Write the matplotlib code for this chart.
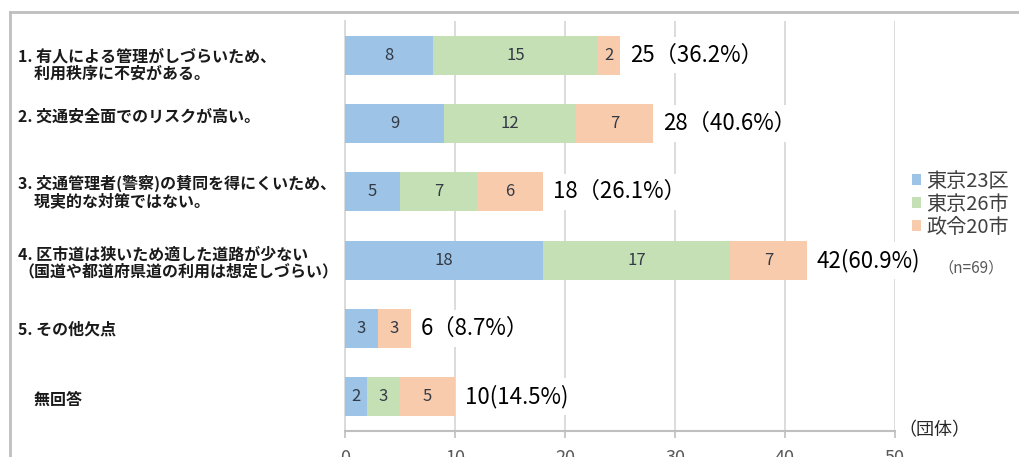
import matplotlib
matplotlib.use("Agg")
import matplotlib.pyplot as plt
from matplotlib.patches import Patch
from matplotlib.lines import Line2D
from matplotlib.transforms import blended_transform_factory, offset_copy
import numpy as np

plt.rcParams['font.family'] = ['Noto Sans CJK JP', 'DejaVu Sans']

categories = [
    "1. 有人による管理がしづらいため、\n　利用秩序に不安がある。",
    "2. 交通安全面でのリスクが高い。",
    "3. 交通管理者(警察)の賛同を得にくいため、\n　現実的な対策ではない。",
    "4. 区市道は狭いため適した道路が少ない\n（国道や都道府県道の利用は想定しづらい）",
    "5. その他欠点",
    "　無回答",
]
series_names = ["東京23区", "東京26市", "政令20市"]
tokyo23 = [8, 9, 5, 18, 3, 2]
tokyo26 = [15, 12, 7, 17, 0, 3]
seirei20 = [2, 7, 6, 7, 3, 5]
total_labels = ["25（36.2%）", "28（40.6%）", "18（26.1%）", "42(60.9%)", "6（8.7%）", "10(14.5%)"]
x_ticks = [0, 10, 20, 30, 40, 50]
n_note = "（n=69）"
unit_label = "（団体）"

colors = ["#9DC3E6", "#C5E0B4", "#F8CBAD"]
# vertical nudges (pixels, downward) of the category text boxes
label_nudge_px = [10, -7, 0, 3, 1, 3]

W, H = 1020, 457
fig = plt.figure(figsize=(W / 100, H / 100), dpi=100)
ax = fig.add_axes([345 / W, 1 - 431 / H, 550 / W, 410 / H])

y = np.arange(len(categories))
series = [tokyo23, tokyo26, seirei20]
left = np.zeros(len(categories))
for vals, col, name in zip(series, colors, series_names):
    vals = np.array(vals, dtype=float)
    ax.barh(y, vals, left=left, height=0.57, color=col, label=name, zorder=3)
    for yi, (l, v) in enumerate(zip(left, vals)):
        if v > 0:
            ax.text(l + v / 2, yi, f"{int(v)}", ha='center', va='center',
                    fontsize=12, color='#333a45', zorder=4)
    left = left + vals

for yi, (tot, lab) in enumerate(zip(left, total_labels)):
    ax.annotate(lab, (tot, yi), xytext=(7, 0), textcoords='offset points',
                ha='left', va='center', fontsize=16, color='black', zorder=5,
                bbox=dict(boxstyle='square,pad=0.3', fc='white', ec='none'))

ax.set_xlim(0, 50)
ax.set_ylim(len(categories) - 0.5, -0.5)
ax.set_xticks(x_ticks)
ax.set_xticklabels([str(t) for t in x_ticks])
ax.tick_params(axis='x', direction='out', length=5, width=1.2, color='#BFBFBF',
               labelsize=13, labelcolor='#595959', pad=8)
ax.set_yticks(y)
ax.set_yticklabels([])
ax.tick_params(axis='y', length=0)

trans = blended_transform_factory(fig.transFigure, ax.transData)
for yi, (cat, nud) in enumerate(zip(categories, label_nudge_px)):
    tr = offset_copy(trans, fig=fig, x=0, y=-nud * 0.72, units='points')
    fig.text(18 / W, yi, cat, transform=tr, ha='left', va='center',
             fontsize=11.5, fontweight='bold', color='#1a1a1a', linespacing=1.05)

ax.grid(axis='x', color='#D9D9D9', lw=1.3, zorder=0)
for s in ['top', 'right']:
    ax.spines[s].set_visible(False)
ax.spines['left'].set_color('#D9D9D9')
ax.spines['left'].set_linewidth(1.3)
ax.spines['bottom'].set_color('#BFBFBF')
ax.spines['bottom'].set_linewidth(1.5)

handles = [Patch(facecolor=c, edgecolor='none') for c in colors]
leg = fig.legend(handles, series_names, loc='upper left',
                 bbox_to_anchor=(912 / W, 1 - 171 / H), frameon=False,
                 fontsize=14.5, handlelength=0.45, handleheight=0.45,
                 handletextpad=0.25, labelspacing=0.1, borderpad=0, borderaxespad=0)
for t in leg.get_texts():
    t.set_color('#404040')

fig.text(938 / W, 1 - 268 / H, n_note, ha='left', va='center', fontsize=11, color='#595959')
fig.text(898 / W, 1 - 430 / H, unit_label, ha='left', va='center', fontsize=13, color='#262626')

# outer frame
fig.add_artist(Line2D([10 / W, 10 / W], [0, 1 - 12 / H], transform=fig.transFigure,
                      color='#BFBFBF', lw=2))
fig.add_artist(Line2D([10 / W, 1], [1 - 12 / H, 1 - 12 / H], transform=fig.transFigure,
                      color='#BFBFBF', lw=2))

fig.savefig("out.png", dpi=100, facecolor='white')
